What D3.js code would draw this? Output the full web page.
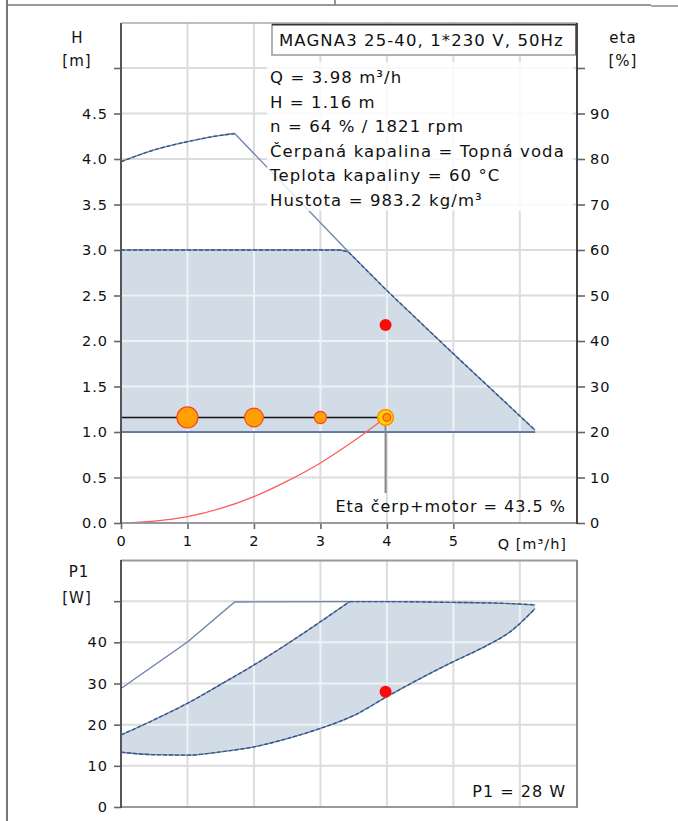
<!DOCTYPE html>
<html>
<head>
<meta charset="utf-8">
<script src="https://cdn.jsdelivr.net/npm/d3@7"></script>
<style>
  body { margin: 0; background: #fff; }
  text { font-family: "DejaVu Sans", sans-serif; fill: #111; }
</style>
</head>
<body>
<div id="pump-chart"></div>
<script>
// Achsen / ticks
const qTicks = [0, 1, 2, 3, 4, 5]
const qGrid = [1, 2, 3, 4, 5, 6]
const hTicks = [0, 0.5, 1, 1.5, 2, 2.5, 3, 3.5, 4, 4.5, 5]
const etaTicks = [0, 10, 20, 30, 40, 50, 60, 70, 80, 90, 100]
const p1Ticks = [0, 10, 20, 30, 40, 50]

// Q-H curves [Q, H]
const maxHeadCurve = [[0, 3.97], [0.5, 4.1], [1, 4.19], [1.5, 4.26], [1.71, 4.28]]
const maxHeadDrop = [[1.71, 4.28], [3.42, 2.98]]
const areaHeadTop = [[0, 3.0], [3.3, 3.0], [3.42, 2.98], [4.02, 2.54], [5, 1.86], [6.23, 1.02]]
const areaHeadBottom = [[0, 1.0], [6.23, 1.0]]
const systemCurve = [[0, 0], [0.5, 0.02], [1, 0.07], [1.5, 0.16], [2, 0.29], [2.5, 0.46], [3, 0.66], [3.5, 0.9], [3.98, 1.16]]

// load profile
const loadQ = [1, 2, 3, 4]
const loadShare = [44, 35, 15, 6]

// duty point
const dutyQ = 3.98
const dutyH = 1.16
const dutyEta = 43.5
const dutyP1 = 28

// Q-P1 curves [Q, P1]
const maxPower = [[0, 28.8], [1, 40.1], [1.71, 49.8], [3.44, 49.9]]
const areaPowerRise = [[0, 17.5], [0.5, 21.2], [1, 25.2], [1.5, 29.8], [2, 34.5], [2.5, 39.6], [3, 45.0], [3.44, 49.9]]
const areaPowerFlat = [[3.44, 49.9], [4, 49.9], [5, 49.7], [5.5, 49.6], [6, 49.3], [6.23, 49.1]]
const areaPowerBottom = [[0, 13.3], [0.5, 12.7], [1, 12.6], [1.5, 13.4], [2, 14.6], [2.5, 16.6], [3, 19.1], [3.5, 22.2], [4, 26.8], [4.5, 31.2], [5, 35.3], [5.5, 39.2], [5.85, 42.5], [6.23, 48.2]]

const titleText = "MAGNA3 25-40, 1*230 V, 50Hz"
const infoLines = [
  "Q = 3.98 m³/h",
  "H = 1.16 m",
  "n = 64 % / 1821 rpm",
  "Čerpaná kapalina = Topná voda",
  "Teplota kapaliny = 60 °C",
  "Hustota = 983.2 kg/m³"
]

const W = 678, H = 821
const svg = d3.select("#pump-chart").append("svg")
  .attr("width", W)
  .attr("height", H)

// page frame
svg.append("line").attr("x1", 7).attr("x2", 7).attr("y1", 0).attr("y2", H)
  .attr("stroke", "#777").attr("stroke-width", 2)
svg.append("line").attr("x1", 7).attr("x2", 651).attr("y1", 5).attr("y2", 5)
  .attr("stroke", "#777").attr("stroke-width", 1.5)
svg.append("line").attr("x1", 651).attr("x2", 678).attr("y1", 6).attr("y2", 6)
  .attr("stroke", "#888").attr("stroke-width", 1.5)
svg.append("line").attr("x1", 335).attr("x2", 335).attr("y1", 0).attr("y2", 5)
  .attr("stroke", "#777").attr("stroke-width", 1.5)

// scales
const x = d3.scaleLinear().domain([0, 6.86]).range([121, 577])
const yH = d3.scaleLinear().domain([0, 5.5]).range([523, 22.5])
const yEta = d3.scaleLinear().domain([0, 110]).range([523, 22.5])
const yP = d3.scaleLinear().domain([0, 60]).range([807, 560])
const rLoad = d3.scaleSqrt().domain([0, d3.max(loadShare)]).range([0, 10.5])

const fillCol = "#d1dce7"
const edgeCol = "#38578a"
const lineCol = "#6c80a8"

function linePath(y, smooth) {
  return d3.line().x(d => x(d[0])).y(d => y(d[1]))
    .curve(smooth ? d3.curveMonotoneX : d3.curveLinear)
}

function edge(g, pts, y, dashed, smooth) {
  g.append("path").attr("d", linePath(y, smooth)(pts))
    .attr("fill", "none").attr("stroke", lineCol).attr("stroke-width", 1.3)
  if (dashed) {
    g.append("path").attr("d", linePath(y, smooth)(pts))
      .attr("fill", "none").attr("stroke", edgeCol).attr("stroke-width", 1.4)
      .attr("stroke-dasharray", "4,2")
  }
}

function grid(g, y, yTicks, col, width) {
  g.selectAll(null).data(qGrid).enter().append("line")
    .attr("x1", d => x(d)).attr("x2", d => x(d))
    .attr("y1", y.range()[0]).attr("y2", y.range()[1])
    .attr("stroke", col).attr("stroke-width", width)
  g.selectAll(null).data(yTicks.filter(d => d > 0)).enter().append("line")
    .attr("x1", x.range()[0]).attr("x2", x.range()[1])
    .attr("y1", d => y(d)).attr("y2", d => y(d))
    .attr("stroke", col).attr("stroke-width", width)
}

function styleAxis(g) {
  g.select(".domain").remove()
  g.selectAll(".tick line").attr("stroke", "#666").attr("stroke-width", 1.6)
  g.selectAll(".tick text").style("font-size", "14.5px").style("letter-spacing", "1px")
    .attr("fill", "#111").style("font-family", "'DejaVu Sans', sans-serif")
}

// ---------- top chart: Q-H ----------
const gTop = svg.append("g")

grid(gTop, yH, hTicks, "#dcdcdc", 2)

const headArea = areaHeadTop.concat(areaHeadBottom.slice().reverse())
const areaPathH = linePath(yH)(headArea) + "Z"
gTop.append("path").attr("d", areaPathH).attr("fill", fillCol)

// lighter gridlines inside the area
gTop.append("clipPath").attr("id", "clipH").append("path").attr("d", areaPathH)
const gIn = gTop.append("g").attr("clip-path", "url(#clipH)")
grid(gIn, yH, hTicks, "#eef2f6", 2)

edge(gTop, areaHeadTop, yH, true)
gTop.append("path").attr("d", linePath(yH)(areaHeadBottom))
  .attr("fill", "none").attr("stroke", edgeCol).attr("stroke-width", 1.3)
edge(gTop, maxHeadCurve, yH, true, true)
edge(gTop, maxHeadDrop, yH, false)

// info text with semi-transparent background
gTop.append("rect").attr("x", 267).attr("y", 62).attr("width", 306).attr("height", 149)
  .attr("fill", "#fff").attr("opacity", 0.82)
gTop.selectAll(".info").data(infoLines).enter().append("text")
  .attr("class", "info")
  .attr("x", 270)
  .attr("y", (d, i) => 83 + i * 24.5)
  .style("font-size", "16.5px")
  .style("letter-spacing", "1.1px")
  .text(d => d)

// title box
gTop.append("rect").attr("x", 272).attr("y", 24).attr("width", 304).attr("height", 31)
  .attr("fill", "#fff").attr("stroke", "#999").attr("stroke-width", 1.5)
gTop.append("path").attr("d", "M272,24.5H576.5V55")
  .attr("fill", "none").attr("stroke", "#333").attr("stroke-width", 2)
gTop.append("text").attr("x", 279).attr("y", 46)
  .style("font-size", "16.5px").style("letter-spacing", "1.1px")
  .text(titleText)

// system curve
gTop.append("path").attr("d", linePath(yH, true)(systemCurve))
  .attr("fill", "none").attr("stroke", "#ff5a5a").attr("stroke-width", 1.2)

// drop line to the eta label
gTop.append("line")
  .attr("x1", x(dutyQ)).attr("x2", x(dutyQ))
  .attr("y1", yH(dutyH)).attr("y2", 493)
  .attr("stroke", "#888").attr("stroke-width", 2)

// duty line
gTop.append("line")
  .attr("x1", x(0)).attr("x2", x(dutyQ))
  .attr("y1", yH(dutyH)).attr("y2", yH(dutyH))
  .attr("stroke", "#111").attr("stroke-width", 1.6)

// duty point marker
gTop.append("circle").attr("cx", x(dutyQ)).attr("cy", yH(dutyH)).attr("r", 7.8)
  .attr("fill", "#ffd400").attr("stroke", "#ff9000").attr("stroke-width", 1.6)

// load profile circles
gTop.selectAll(".load").data(loadQ).enter().append("circle")
  .attr("class", "load")
  .attr("cx", d => x(d))
  .attr("cy", yH(dutyH))
  .attr("r", (d, i) => rLoad(loadShare[i]))
  .attr("fill", "#ffa000")
  .attr("stroke", "#ff4020")
  .attr("stroke-width", 1.2)

// efficiency point
gTop.append("circle").attr("cx", x(dutyQ)).attr("cy", yEta(dutyEta)).attr("r", 6)
  .attr("fill", "#ff0a0a")

gTop.append("text").attr("x", 566).attr("y", 512)
  .attr("text-anchor", "end")
  .style("font-size", "16px").style("letter-spacing", "1px")
  .text("Eta čerp+motor = " + dutyEta + " %")

// axes
const hAxis = d3.axisLeft(yH).tickValues(hTicks).tickSize(7).tickPadding(6)
  .tickFormat(d => d === 5 ? "" : d3.format(".1f")(d))
const etaAxis = d3.axisRight(yEta).tickValues(etaTicks).tickSize(8).tickPadding(5)
  .tickFormat(d => d === 100 ? "" : d)
const qAxis = d3.axisBottom(x).tickValues(qTicks).tickSize(6).tickPadding(7)
  .tickFormat(d3.format("d"))

gTop.append("g").attr("transform", "translate(121,0)").call(hAxis).call(styleAxis)
gTop.append("g").attr("transform", "translate(577,0)").call(etaAxis).call(styleAxis)
gTop.append("g").attr("transform", "translate(0,523)").call(qAxis).call(styleAxis)

// frame
gTop.append("line").attr("x1", 121).attr("x2", 577).attr("y1", 23).attr("y2", 23)
  .attr("stroke", "#aaa").attr("stroke-width", 1.5)
gTop.append("line").attr("x1", 121).attr("x2", 577).attr("y1", 523).attr("y2", 523)
  .attr("stroke", "#999").attr("stroke-width", 2)
gTop.append("line").attr("x1", 121).attr("x2", 121).attr("y1", 23).attr("y2", 524)
  .attr("stroke", "#555").attr("stroke-width", 2)
gTop.append("line").attr("x1", 577).attr("x2", 577).attr("y1", 23).attr("y2", 524)
  .attr("stroke", "#444").attr("stroke-width", 2)

// axis titles
gTop.append("text").attr("x", 77).attr("y", 43).attr("text-anchor", "middle")
  .style("font-size", "15px").text("H")
gTop.append("text").attr("x", 77).attr("y", 66).attr("text-anchor", "middle")
  .style("font-size", "15px").style("letter-spacing", "1px").text("[m]")
gTop.append("text").attr("x", 623).attr("y", 43).attr("text-anchor", "middle")
  .style("font-size", "15px").style("letter-spacing", "1px").text("eta")
gTop.append("text").attr("x", 623).attr("y", 66).attr("text-anchor", "middle")
  .style("font-size", "15px").style("letter-spacing", "1px").text("[%]")
gTop.append("text").attr("x", 567).attr("y", 549).attr("text-anchor", "end")
  .style("font-size", "14.5px").style("letter-spacing", "1px").text("Q [m³/h]")

// ---------- bottom chart: Q-P1 ----------
const gBot = svg.append("g")

grid(gBot, yP, p1Ticks, "#dcdcdc", 2)

const lineSmooth = linePath(yP, true)
const areaPathP = lineSmooth(areaPowerRise) + "L" + lineSmooth(areaPowerFlat).slice(1)
  + "L" + lineSmooth(areaPowerBottom.slice().reverse()).slice(1) + "Z"
gBot.append("path").attr("d", areaPathP).attr("fill", fillCol)
gBot.append("clipPath").attr("id", "clipP").append("path").attr("d", areaPathP)
const gInP = gBot.append("g").attr("clip-path", "url(#clipP)")
grid(gInP, yP, p1Ticks, "#eef2f6", 2)

edge(gBot, maxPower, yP, false)
edge(gBot, areaPowerRise, yP, true, true)
edge(gBot, areaPowerFlat, yP, true, true)
edge(gBot, areaPowerBottom, yP, true, true)

gBot.append("circle").attr("cx", x(dutyQ)).attr("cy", yP(dutyP1)).attr("r", 6)
  .attr("fill", "#ff0a0a")

gBot.append("text").attr("x", 566).attr("y", 797)
  .attr("text-anchor", "end")
  .style("font-size", "16px").style("letter-spacing", "1px")
  .text("P1 = " + dutyP1 + " W")

const pAxis = d3.axisLeft(yP).tickValues(p1Ticks).tickSize(7).tickPadding(6)
  .tickFormat(d => d === 50 ? "" : d)
gBot.append("g").attr("transform", "translate(121,0)").call(pAxis).call(styleAxis)

gBot.append("line").attr("x1", 121).attr("x2", 577).attr("y1", 560.5).attr("y2", 560.5)
  .attr("stroke", "#999").attr("stroke-width", 2)
gBot.append("line").attr("x1", 121).attr("x2", 577).attr("y1", 807).attr("y2", 807)
  .attr("stroke", "#999").attr("stroke-width", 2)
gBot.append("line").attr("x1", 577).attr("x2", 577).attr("y1", 560).attr("y2", 808)
  .attr("stroke", "#888").attr("stroke-width", 2)
gBot.append("line").attr("x1", 121).attr("x2", 121).attr("y1", 560).attr("y2", 808)
  .attr("stroke", "#555").attr("stroke-width", 2)

gBot.append("text").attr("x", 79).attr("y", 577).attr("text-anchor", "middle")
  .style("font-size", "15px").style("letter-spacing", "1px").text("P1")
gBot.append("text").attr("x", 77).attr("y", 603).attr("text-anchor", "middle")
  .style("font-size", "15px").style("letter-spacing", "1px").text("[W]")
</script>
</body>
</html>
